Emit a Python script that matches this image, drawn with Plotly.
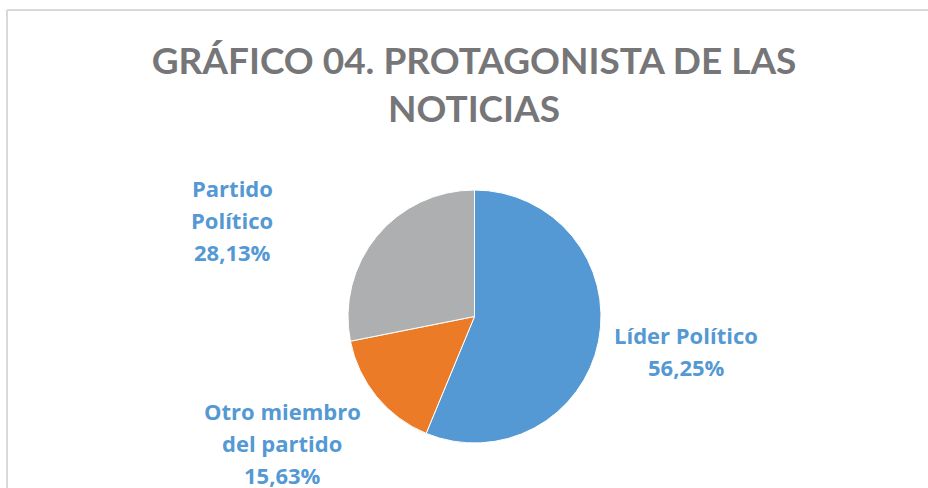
import plotly.graph_objects as go

# Data
categories = ["Líder Político", "Otro miembro del partido", "Partido Político"]
values = [56.25, 15.63, 28.13]
colors = ["#5499D4", "#EB7B27", "#AEAFB1"]
label_lines = [["Líder Político"], ["Otro miembro", "del partido"], ["Partido", "Político"]]
title_text = "GRÁFICO 04. PROTAGONISTA DE LAS<br>NOTICIAS"

W, H = 928, 488

def px(x):
    return x / W

def py(y):
    return 1 - y / H

fig = go.Figure(go.Pie(
    labels=categories,
    values=values,
    sort=False,
    direction="clockwise",
    rotation=0,
    marker=dict(colors=colors, line=dict(color="white", width=1)),
    textinfo="none",
    hoverinfo="label+percent",
    showlegend=False,
    domain=dict(x=[px(348), px(601)], y=[py(443), py(190)]),
))

# label anchor positions (pixel centers of first line) and line spacing
label_pos = [(686, 335), (282, 411), (232, 188)]
line_gap = 32

annotations = []
for lines, val, (cx, cy) in zip(label_lines, values, label_pos):
    all_lines = lines + [f"{val:.2f}".replace(".", ",") + "%"]
    for i, t in enumerate(all_lines):
        annotations.append(dict(
            text=f"<b>{t}</b>", x=px(cx), y=py(cy + i * line_gap),
            xref="paper", yref="paper", xanchor="center", yanchor="middle",
            showarrow=False, borderpad=0,
            font=dict(family="'Open Sans', sans-serif", size=22, color="#5499D4"),
        ))

shapes = [
    dict(type="line", xref="paper", yref="paper", x0=px(7), y0=0, x1=px(7), y1=py(10),
         line=dict(color="#D9D9D9", width=2)),
    dict(type="line", xref="paper", yref="paper", x0=px(7), y0=py(10), x1=1, y1=py(10),
         line=dict(color="#D9D9D9", width=2)),
]

fig.update_layout(
    width=W, height=H,
    margin=dict(l=0, r=0, t=0, b=0),
    paper_bgcolor="white",
    plot_bgcolor="white",
    title=dict(
        text=f"<b>{title_text}</b>",
        x=px(474), xanchor="center",
        y=py(74), yanchor="middle",
        font=dict(family="Lato, 'Open Sans', sans-serif", size=37, color="#767678"),
    ),
    annotations=annotations,
    shapes=shapes,
)

fig.write_html("out.html", config={"displayModeBar": False},
               post_script="document.body.style.margin='0px';")
